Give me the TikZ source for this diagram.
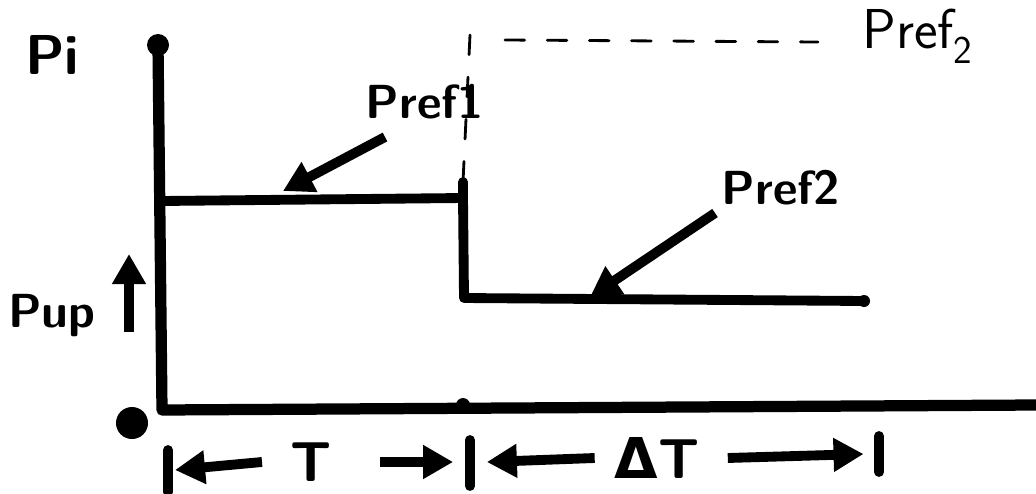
\documentclass[tikz,border=0pt]{standalone}
\usepackage{fontspec}
\usepackage{tikz}
\usetikzlibrary{arrows.meta,positioning}
\newfontfamily\symfont{DejaVu Sans}

\begin{document}
\begin{tikzpicture}[
    x=0.025cm, y=-0.025cm,
    pen/.style={line width=8pt, line cap=round, line join=round},
    steppen/.style={line width=7pt, line cap=round, line join=round},
    thinpen/.style={line width=2pt, line cap=round, dash pattern=on 14pt off 16pt},
    lbl/.style={font=\fontsize{34}{36}\selectfont\sffamily\bfseries, inner sep=0pt},
    biglbl/.style={lbl, font=\fontsize{40}{42}\selectfont\sffamily\bfseries},
    dot/.style={circle, fill, inner sep=0pt, minimum size=0.55cm},
    tip/.style={-{Triangle[length=0.75cm, width=0.8cm]}, line width=7pt},
    bar/.style={line width=7pt, line cap=round}
]
    \useasboundingbox (0,0) rectangle (1036,493);

    % Axes
    \node[dot] (topdot) at (158,45) {};
    \coordinate (origin) at (162,410);
    \coordinate (xend) at (1036,405);
    \draw[pen] (topdot.center) -- (origin) -- (xend);
    \node[dot, minimum size=0.35cm] (tdot) at (463,405) {};
    \node[dot, minimum size=0.8cm] (zero) at (132,423) {};
    \node[biglbl] (pi) at (52,55) {Pi};

    % Step
    \coordinate (s1) at (162,201);
    \coordinate (s2) at (463,198);
    \coordinate (s3) at (464,298);
    \node[dot, minimum size=0.3cm] (s4) at (864,301) {};
    \draw[steppen] (s1) -- (s2) -- (s3) -- (s4.center);
    \coordinate (s2top) at (463,182);
    \draw[steppen] (s2top) -- (s2);

    % Dashed guide to Pref2
    \coordinate (d1) at (470,35);
    \coordinate (d2) at (505,40);
    \coordinate (d3) at (818,42);
    \draw[thinpen] (d1) -- (s2top);
    \draw[thinpen] (d2) -- (d3);
    \node[inner sep=0pt, font=\fontsize{40}{42}\selectfont\sffamily, right=1.1cm of d3, yshift=4pt] (pref2top) {Pref\textsubscript{2}};

    % Labels with arrows
    \node[lbl] (pref1) at (425,102) {Pref1};
    \coordinate (a1s) at (385,137);
    \coordinate (a1e) at (283,191);
    \draw[tip] (a1s) -- (a1e);

    \node[lbl] (pref2) at (781,188) {Pref2};
    \coordinate (a2s) at (715,213);
    \coordinate (a2e) at (590,297);
    \draw[tip] (a2s) -- (a2e);

    \node[lbl] (pup) at (52,316) {Pup};
    \coordinate (a3s) at (129,332);
    \coordinate (a3e) at (129,254);
    \draw[tip] (a3s) -- (a3e);

    % Time spans
    \coordinate (b0) at (168,470);
    \coordinate (b1) at (470,462);
    \coordinate (b2) at (879,454);
    \draw[bar] ([yshift=-0.55cm]b0) -- ([yshift=0.5cm]b0);
    \draw[bar] ([yshift=-0.6cm]b1) -- ([yshift=0.55cm]b1);
    \draw[bar] ([yshift=-0.45cm]b2) -- ([yshift=0.45cm]b2);

    \node[biglbl] (t) at (311,462) {T};
    \draw[tip] ([xshift=-20]t.west) coordinate (tl) -- ([xshift=5]b0);
    \draw[tip] ([xshift=34]t.east) coordinate (tr) -- ([xshift=-12]b1);

    \node[biglbl] (dt) at (657,458) {{\symfont\bfseries Δ}T};
    \draw[tip] ([xshift=-14]dt.west) coordinate (dl) -- ([xshift=12]b1);
    \draw[tip] ([xshift=20]dt.east) coordinate (dr) -- ([xshift=-11]b2);
\end{tikzpicture}
\end{document}
